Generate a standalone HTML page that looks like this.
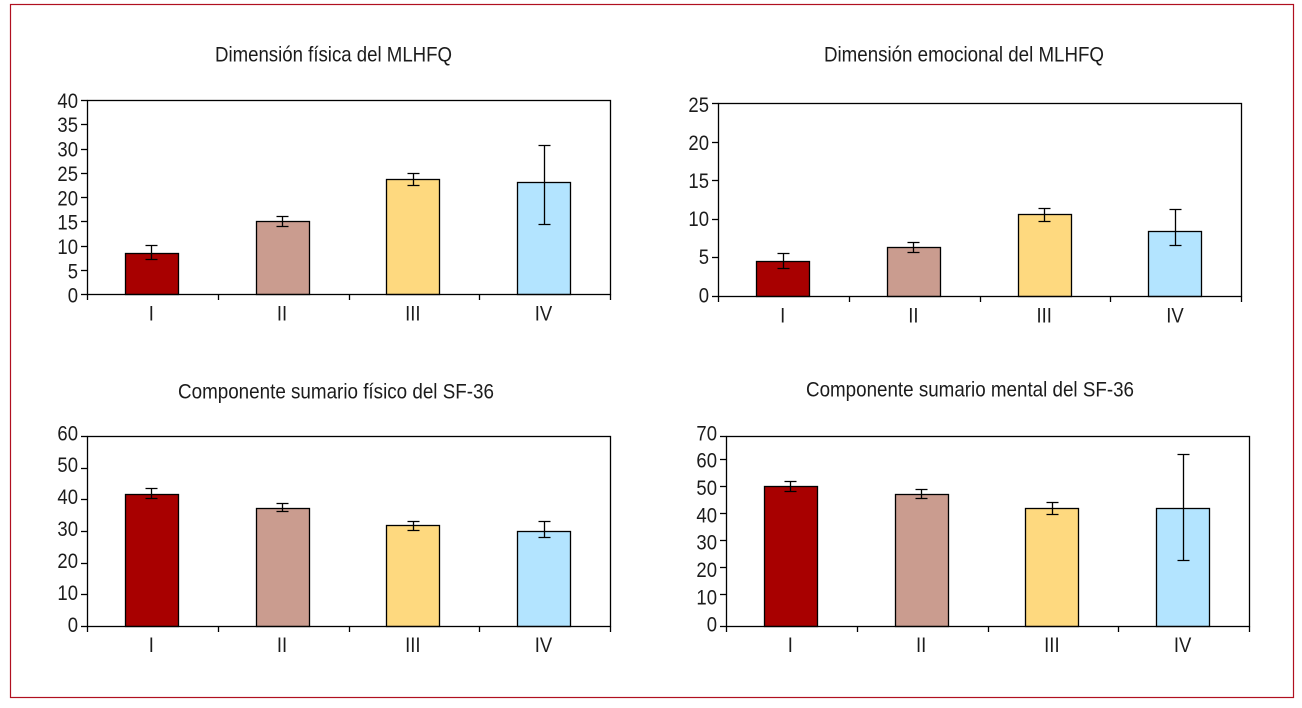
<!DOCTYPE html>
<html lang="es">
<head>
<meta charset="utf-8">
<title>Dimensiones del MLHFQ y SF-36</title>
<style>
  html, body { margin: 0; padding: 0; background: #fff; width: 1302px; height: 708px; overflow: hidden; }
  svg { display: block; }
  text { font-family: "Liberation Sans", sans-serif; fill: #1c1c1c; }
  .title { font-size: 21.5px; }
  .tick { font-size: 21.5px; }
</style>
</head>
<body>
<svg id="figure" xmlns="http://www.w3.org/2000/svg" width="1302" height="708" viewBox="0 0 1302 708">
  <rect x="0" y="0" width="1302" height="708" fill="#fff"/>
  <rect x="10.5" y="4.5" width="1283" height="693" fill="none" stroke="#b01020" stroke-width="1.2"/>
  <text class="title" x="215" y="61.5" textLength="237" lengthAdjust="spacingAndGlyphs">Dimensión física del MLHFQ</text>
  <text class="title" x="824" y="61.5" textLength="280" lengthAdjust="spacingAndGlyphs">Dimensión emocional del MLHFQ</text>
  <text class="title" x="178" y="398.5" textLength="316" lengthAdjust="spacingAndGlyphs">Componente sumario físico del SF-36</text>
  <text class="title" x="806" y="396.5" textLength="328" lengthAdjust="spacingAndGlyphs">Componente sumario mental del SF-36</text>
</svg>
<script>
// Shared categories and bar colours
const categories = ['I', 'II', 'III', 'IV'];
const barColors = ['#a80000', '#ca9c8f', '#fed97f', '#b3e4ff'];

// Dimensión física del MLHFQ
const physMlhfqValues = [8.44, 15.03, 23.68, 23.06];
const physMlhfqHigh = [10.15, 15.98, 24.97, 30.68];
const physMlhfqLow = [7.27, 14.06, 22.5, 14.47];
const physMlhfqTicks = [0, 5, 10, 15, 20, 25, 30, 35, 40];

// Dimensión emocional del MLHFQ
const emoMlhfqValues = [4.54, 6.36, 10.64, 8.44];
const emoMlhfqHigh = [5.58, 7.0, 11.42, 11.29];
const emoMlhfqLow = [3.63, 5.71, 9.73, 6.62];
const emoMlhfqTicks = [0, 5, 10, 15, 20, 25];

// Componente sumario físico del SF-36
const physSfValues = [41.7, 37.3, 31.9, 30.0];
const physSfHigh = [43.6, 38.8, 33.2, 33.2];
const physSfLow = [40.5, 36.3, 30.3, 28.1];
const physSfTicks = [0, 10, 20, 30, 40, 50, 60];

// Componente sumario mental del SF-36
const mentalSfValues = [50, 47, 41.9, 41.9];
const mentalSfHigh = [52, 48.7, 44, 61.9];
const mentalSfLow = [48.2, 45.4, 39.6, 22.7];
const mentalSfTicks = [0, 10, 20, 30, 40, 50, 60, 70];

const SVG_NS = 'http://www.w3.org/2000/svg';
const figure = document.getElementById('figure');
const LINE_WIDTH = 1.3;

function make(tag, attrs, parent) {
  const node = document.createElementNS(SVG_NS, tag);
  for (const key in attrs) node.setAttribute(key, attrs[key]);
  parent.appendChild(node);
  return node;
}

function drawChart(o) {
  const g = make('g', {}, figure);
  
  

  const band = (o.right - o.left) / categories.length;
  const xCenter = i => o.left + (i + 0.5) * band + o.shift;
  const snap = v => Math.round(v - 0.5) + 0.5;
  const yScale = v => o.bottom - (v - o.domain[0]) / (o.domain[1] - o.domain[0]) * (o.bottom - o.top);
  // Axis ends sit on the plot frame
  const tickY = (v, i) => i === 0 ? o.bottom : i === o.ticks.length - 1 ? o.top : yScale(v);

  // Bars
  o.values.forEach((v, i) => {
    const top = snap(yScale(v));
    const bar = make('rect', {
      x: snap(xCenter(i) - 26.5), y: top, width: 53, height: o.bottom - top,
      fill: barColors[i], stroke: '#000', 'stroke-width': LINE_WIDTH
    }, g);
    
    
  });

  // Plot frame
  const frame = make('rect', {
    x: o.left, y: o.top, width: o.right - o.left, height: o.bottom - o.top,
    fill: 'none', stroke: '#000', 'stroke-width': LINE_WIDTH
  }, g);
  
  

  // Error bars
  o.values.forEach((v, i) => {
    const cx = snap(xCenter(i));
    const yHi = snap(yScale(o.high[i]));
    const yLo = snap(yScale(o.low[i]));
    const err = make('path', {
      d: 'M' + cx + ' ' + yHi + 'V' + yLo +
         'M' + (cx - 6) + ' ' + yHi + 'H' + (cx + 6) +
         'M' + (cx - 6) + ' ' + yLo + 'H' + (cx + 6),
      fill: 'none', stroke: '#000', 'stroke-width': LINE_WIDTH
    }, g);
    
    
  });

  // Y ticks and labels
  const n = o.ticks.length;
  o.ticks.forEach((v, i) => {
    const y = snap(tickY(v, i));
    const tick = make('line', {
      x1: o.left - 6.5, x2: o.left, y1: y, y2: y, stroke: '#000', 'stroke-width': LINE_WIDTH
    }, g);
    
    

    const labelY = o.labelBottom + (o.labelTop - o.labelBottom) * i / (n - 1);
    const label = make('text', {
      class: 'tick', 'text-anchor': 'end',
      transform: 'translate(' + (o.left - 9.5) + ' ' + (labelY + 7.6) + ') scale(0.86 1)'
    }, g);
    label.textContent = String(v);
    
    
  });

  // X ticks
  for (let i = 0; i <= categories.length; i++) {
    const x = snap(o.left + i * band);
    const tick = make('line', {
      x1: x, x2: x, y1: o.bottom, y2: o.bottom + 5.5, stroke: '#000', 'stroke-width': LINE_WIDTH
    }, g);
    
    
  }

  // Category labels
  categories.forEach((c, i) => {
    const label = make('text', {
      class: 'tick', 'text-anchor': 'middle',
      transform: 'translate(' + (xCenter(i) - 0.5) + ' ' + o.catBaseline + ') scale(0.86 1)'
    }, g);
    label.textContent = c;
    
    
  });
}

drawChart({
  name: 'chart-physical-mlhfq', left: 87.5, right: 610.5, top: 100.5, bottom: 294.5,
  domain: [0, 40], shift: -1.1, ticks: physMlhfqTicks,
  values: physMlhfqValues, high: physMlhfqHigh, low: physMlhfqLow,
  labelTop: 100.3, labelBottom: 295, catBaseline: 320.5
});
drawChart({
  name: 'chart-emotional-mlhfq', left: 718.5, right: 1241.5, top: 103.5, bottom: 296.5,
  domain: [0, 25], shift: -0.7, ticks: emoMlhfqTicks,
  values: emoMlhfqValues, high: emoMlhfqHigh, low: emoMlhfqLow,
  labelTop: 104.3, labelBottom: 294.7, catBaseline: 322.5
});
drawChart({
  name: 'chart-physical-sf36', left: 87.5, right: 610.5, top: 436.5, bottom: 626.5,
  domain: [0, 60], shift: -1.1, ticks: physSfTicks,
  values: physSfValues, high: physSfHigh, low: physSfLow,
  labelTop: 432.7, labelBottom: 624.3, catBaseline: 652
});
drawChart({
  name: 'chart-mental-sf36', left: 726.5, right: 1249.5, top: 436.5, bottom: 626.5,
  domain: [-1.85, 68.5], shift: -1, ticks: mentalSfTicks,
  values: mentalSfValues, high: mentalSfHigh, low: mentalSfLow,
  labelTop: 432.7, labelBottom: 624, catBaseline: 652
});
</script>
</body>
</html>
